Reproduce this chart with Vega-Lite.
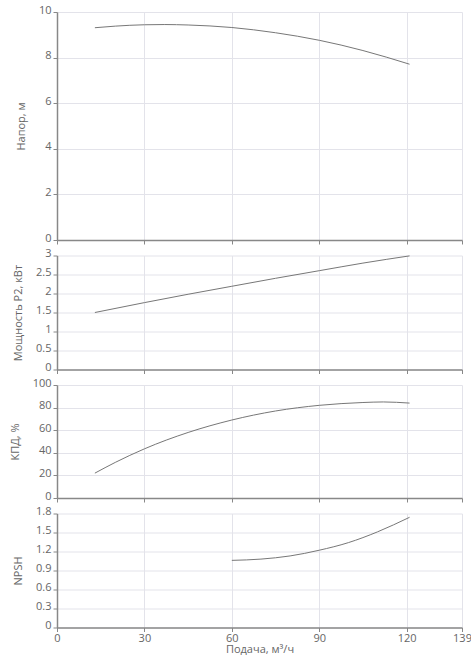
{
  "$schema": "https://vega.github.io/schema/vega-lite/v6.json",
  "padding": {"left": 9, "top": 4, "right": 0, "bottom": 5},
  "datasets": {
    "head": [
      {"q": 13, "v": 9.31}, {"q": 20, "v": 9.38}, {"q": 30, "v": 9.44}, {"q": 37, "v": 9.45},
      {"q": 45, "v": 9.43}, {"q": 60, "v": 9.32}, {"q": 75, "v": 9.09}, {"q": 90, "v": 8.76},
      {"q": 105, "v": 8.31}, {"q": 121, "v": 7.71}
    ],
    "power": [
      {"q": 13, "v": 1.5}, {"q": 30, "v": 1.76}, {"q": 45, "v": 1.98}, {"q": 60, "v": 2.19},
      {"q": 75, "v": 2.4}, {"q": 90, "v": 2.6}, {"q": 105, "v": 2.8}, {"q": 121, "v": 2.99}
    ],
    "eff": [
      {"q": 13, "v": 22}, {"q": 20, "v": 31.5}, {"q": 30, "v": 43.5}, {"q": 45, "v": 58},
      {"q": 60, "v": 69}, {"q": 75, "v": 77}, {"q": 90, "v": 82}, {"q": 105, "v": 84.5},
      {"q": 112, "v": 85}, {"q": 121, "v": 84}
    ],
    "npsh": [
      {"q": 60, "v": 1.06}, {"q": 70, "v": 1.08}, {"q": 80, "v": 1.13}, {"q": 90, "v": 1.22},
      {"q": 100, "v": 1.34}, {"q": 110, "v": 1.51}, {"q": 121, "v": 1.74}
    ]
  },
  "vconcat": [
    {
      "width": 405, "height": 228,
      "data": {"name": "head"},
      "mark": {"type": "line", "interpolate": "monotone", "color": "#777", "strokeWidth": 1},
      "encoding": {
        "x": {"field": "q", "type": "quantitative", "scale": {"domain": [0, 139], "nice": false},
              "axis": {"values": [0, 30, 60, 90, 120, 139], "labels": false, "title": null}},
        "y": {"field": "v", "type": "quantitative", "scale": {"domain": [0, 10]},
              "axis": {"values": [0, 2, 4, 6, 8, 10], "title": "Напор, м"}}
      }
    },
    {
      "width": 405, "height": 114,
      "data": {"name": "power"},
      "mark": {"type": "line", "interpolate": "monotone", "color": "#777", "strokeWidth": 1},
      "encoding": {
        "x": {"field": "q", "type": "quantitative", "scale": {"domain": [0, 139], "nice": false},
              "axis": {"values": [0, 30, 60, 90, 120, 139], "labels": false, "title": null}},
        "y": {"field": "v", "type": "quantitative", "scale": {"domain": [0, 3]},
              "axis": {"values": [0, 0.5, 1, 1.5, 2, 2.5, 3], "format": "~g", "title": "Мощность Р2, кВт"}}
      }
    },
    {
      "width": 405, "height": 113,
      "data": {"name": "eff"},
      "mark": {"type": "line", "interpolate": "monotone", "color": "#777", "strokeWidth": 1},
      "encoding": {
        "x": {"field": "q", "type": "quantitative", "scale": {"domain": [0, 139], "nice": false},
              "axis": {"values": [0, 30, 60, 90, 120, 139], "labels": false, "title": null}},
        "y": {"field": "v", "type": "quantitative", "scale": {"domain": [0, 100]},
              "axis": {"values": [0, 20, 40, 60, 80, 100], "title": "КПД, %"}}
      }
    },
    {
      "width": 405, "height": 114,
      "data": {"name": "npsh"},
      "mark": {"type": "line", "interpolate": "monotone", "color": "#777", "strokeWidth": 1},
      "encoding": {
        "x": {"field": "q", "type": "quantitative", "scale": {"domain": [0, 139], "nice": false},
              "axis": {"values": [0, 30, 60, 90, 120, 139], "title": "Подача, м³/ч", "titlePadding": 0, "labelFlush": false}},
        "y": {"field": "v", "type": "quantitative", "scale": {"domain": [0, 1.8]},
              "axis": {"values": [0, 0.3, 0.6, 0.9, 1.2, 1.5, 1.8], "format": "~g", "title": "NPSH"}}
      }
    }
  ],
  "spacing": 15.5,
  "bounds": "flush",
  "config": {
    "font": "Open Sans",
    "view": {"stroke": null},
    "axis": {
      "labelFont": "Open Sans", "labelFontSize": 11, "labelColor": "#666",
      "titleFont": "Open Sans", "titleFontSize": 11, "titleColor": "#666", "titleFontWeight": "normal",
      "gridColor": "#e3e3ea", "gridWidth": 1,
      "domainColor": "#888", "domainWidth": 1.5,
      "tickColor": "#888", "tickSize": 4, "labelPadding": 2
    },
    "axisY": {"labelBaseline": "alphabetic", "labelOffset": 1, "titlePadding": 12},
    "axisX": {"labelPadding": 1}
  }
}
